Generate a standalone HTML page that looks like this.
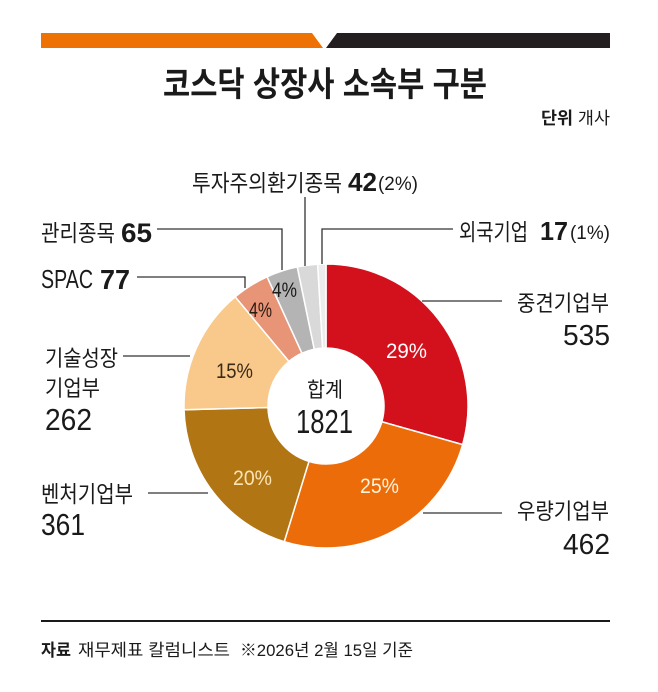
<!DOCTYPE html>
<html>
<head>
<meta charset="utf-8">
<style>
  html,body{margin:0;padding:0;background:#fff;}
  svg{display:block;}
  text{font-family:"Liberation Sans","Noto Sans CJK KR",sans-serif;fill:#1a1a1a;}
  .b{font-weight:700;}
</style>
</head>
<body>
<svg width="658" height="692" viewBox="0 0 658 692" xmlns="http://www.w3.org/2000/svg">
  <rect width="658" height="692" fill="#fff"/>
  <!-- top bar -->
  <polygon points="41,33 312,33 323,48 41,48" fill="#ee7203"/>
  <polygon points="337,33 610,33 610,48 326,48" fill="#231f20"/>

  <!-- title -->
  <text x="163" y="96" font-size="34" class="b" textLength="324" lengthAdjust="spacingAndGlyphs">코스닥 상장사 소속부 구분</text>
  <text x="541" y="124" font-size="17" textLength="69" lengthAdjust="spacingAndGlyphs"><tspan class="b">단위</tspan> 개사</text>

  <!-- donut -->
  <g stroke="#fff" stroke-width="1.5" stroke-linejoin="round">
    <path d="M326,264 A142,142 0 0 1 462.66,444.60 L381.82,421.76 A58,58 0 0 0 326,348 Z" fill="#d2111d"/>
    <path d="M462.66,444.60 A142,142 0 0 1 284.24,541.72 L308.94,461.44 A58,58 0 0 0 381.82,421.76 Z" fill="#ec6c0a"/>
    <path d="M284.24,541.72 A142,142 0 0 1 184.05,409.79 L268.02,407.55 A58,58 0 0 0 308.94,461.44 Z" fill="#b27514"/>
    <path d="M184.05,409.79 A142,142 0 0 1 235.22,296.82 L288.92,361.40 A58,58 0 0 0 268.02,407.55 Z" fill="#f8c98b"/>
    <path d="M235.22,296.82 A142,142 0 0 1 267.10,276.79 L301.94,353.23 A58,58 0 0 0 288.92,361.40 Z" fill="#e79477"/>
    <path d="M267.10,276.79 A142,142 0 0 1 297.30,266.93 L314.28,349.19 A58,58 0 0 0 301.94,353.23 Z" fill="#b4b4b4"/>
    <path d="M297.30,266.93 A142,142 0 0 1 317.68,264.24 L322.60,348.10 A58,58 0 0 0 314.28,349.19 Z" fill="#d9d9d9"/>
    <path d="M317.68,264.24 A142,142 0 0 1 326,264 L326,348 A58,58 0 0 0 322.60,348.10 Z" fill="#ececec"/>
  </g>

  <!-- leader lines -->
  <g stroke="#333" stroke-width="1.3" fill="none">
    <polyline points="453,229 322,229 322,264"/>
    <polyline points="305,197 305,266"/>
    <polyline points="157,229 282,229 282,270"/>
    <polyline points="137,277 245,277 245,288"/>
    <line x1="123" y1="356" x2="190" y2="356"/>
    <line x1="148" y1="493" x2="208" y2="493"/>
    <line x1="422" y1="301" x2="502" y2="301"/>
    <line x1="423" y1="513" x2="502" y2="513"/>
  </g>

  <!-- percent labels -->
  <text x="386" y="358" font-size="21" fill="#ffffff" style="fill:#fff" textLength="41" lengthAdjust="spacingAndGlyphs">29%</text>
  <text x="360" y="493" font-size="21" style="fill:#fff3da" textLength="39" lengthAdjust="spacingAndGlyphs">25%</text>
  <text x="233" y="485" font-size="21" style="fill:#fbe4b4" textLength="39" lengthAdjust="spacingAndGlyphs">20%</text>
  <text x="216" y="378" font-size="21" style="fill:#3b2a18" textLength="37" lengthAdjust="spacingAndGlyphs">15%</text>
  <text x="249" y="317" font-size="21" style="fill:#2a1a10" textLength="23" lengthAdjust="spacingAndGlyphs">4%</text>
  <text x="272" y="297" font-size="21" style="fill:#1a1a1a" textLength="25" lengthAdjust="spacingAndGlyphs">4%</text>

  <!-- center -->
  <text x="307" y="397" font-size="21" textLength="36" lengthAdjust="spacingAndGlyphs">합계</text>
  <text x="296" y="433" font-size="33" textLength="57" lengthAdjust="spacingAndGlyphs">1821</text>

  <!-- outside labels -->
  <text x="192" y="191" font-size="23" textLength="150" lengthAdjust="spacingAndGlyphs">투자주의환기종목</text>
  <text x="348" y="191" font-size="26" class="b" textLength="29" lengthAdjust="spacingAndGlyphs">42</text>
  <text x="378" y="190" font-size="19" textLength="40" lengthAdjust="spacingAndGlyphs">(2%)</text>

  <text x="459" y="240" font-size="23" textLength="69" lengthAdjust="spacingAndGlyphs">외국기업</text>
  <text x="540" y="240" font-size="26" class="b" textLength="28" lengthAdjust="spacingAndGlyphs">17</text>
  <text x="570" y="239" font-size="19" textLength="40" lengthAdjust="spacingAndGlyphs">(1%)</text>

  <text x="41" y="241" font-size="23" textLength="74" lengthAdjust="spacingAndGlyphs">관리종목</text>
  <text x="121" y="242" font-size="27" class="b" textLength="31" lengthAdjust="spacingAndGlyphs">65</text>

  <text x="41" y="288" font-size="26" textLength="52" lengthAdjust="spacingAndGlyphs">SPAC</text>
  <text x="100" y="289" font-size="28" class="b" textLength="30" lengthAdjust="spacingAndGlyphs">77</text>

  <text x="45" y="366" font-size="22" textLength="73" lengthAdjust="spacingAndGlyphs">기술성장</text>
  <text x="45" y="396" font-size="22" textLength="55" lengthAdjust="spacingAndGlyphs">기업부</text>
  <text x="45" y="430" font-size="31" textLength="47" lengthAdjust="spacingAndGlyphs">262</text>

  <text x="41" y="502" font-size="23" textLength="92" lengthAdjust="spacingAndGlyphs">벤처기업부</text>
  <text x="41" y="535" font-size="31" textLength="44" lengthAdjust="spacingAndGlyphs">361</text>

  <text x="517" y="311" font-size="22" textLength="92" lengthAdjust="spacingAndGlyphs">중견기업부</text>
  <text x="563" y="345" font-size="29" textLength="47" lengthAdjust="spacingAndGlyphs">535</text>

  <text x="517" y="519" font-size="22" textLength="92" lengthAdjust="spacingAndGlyphs">우량기업부</text>
  <text x="563" y="554" font-size="29" textLength="47" lengthAdjust="spacingAndGlyphs">462</text>

  <!-- footer -->
  <rect x="41" y="620" width="569" height="2" fill="#1a1a1a"/>
  <text x="41" y="656" font-size="17" class="b" textLength="30" lengthAdjust="spacingAndGlyphs">자료</text>
  <text x="78" y="656" font-size="17" textLength="152" lengthAdjust="spacingAndGlyphs">재무제표 칼럼니스트</text>
  <text x="240" y="656" font-size="17" textLength="173" lengthAdjust="spacingAndGlyphs">※2026년 2월 15일 기준</text>
</svg>
</body>
</html>
